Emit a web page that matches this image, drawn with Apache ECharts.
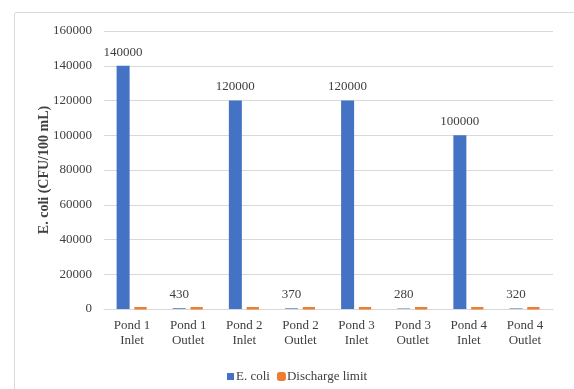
<!DOCTYPE html>
<html>
<head>
<meta charset="utf-8">
<script src="https://cdn.jsdelivr.net/npm/echarts@6/dist/echarts.min.js"></script>
<style>
  html, body { margin: 0; padding: 0; background: #fff; }
  #chart { width: 574px; height: 389px; }
</style>
</head>
<body>
<div id="chart"></div>
<script>
// Sampling points along the pond system
const categories = [
  'Pond 1\nInlet', 'Pond 1\nOutlet',
  'Pond 2\nInlet', 'Pond 2\nOutlet',
  'Pond 3\nInlet', 'Pond 3\nOutlet',
  'Pond 4\nInlet', 'Pond 4\nOutlet'
];
// E. coli counts (CFU/100 mL)
const ecoliValues = [140000, 430, 120000, 370, 120000, 280, 100000, 320];
// Discharge limit (CFU/100 mL)
const dischargeLimit = [1000, 1000, 1000, 1000, 1000, 1000, 1000, 1000];
// Value axis ticks
const yMin = 0, yMax = 160000, yStep = 20000;

const FONT = '"Liberation Serif", "Times New Roman", serif';
const TEXT = '#404040';
const BLUE = '#4472C4';
const ORANGE = '#ED7D31';

const chart = echarts.init(document.getElementById('chart'), null, { renderer: 'canvas' });
chart.setOption({
  backgroundColor: '#ffffff',
  animation: false,
  textStyle: { fontFamily: FONT },
  graphic: [{
    type: 'rect',
    left: 12, top: 10,
    shape: { width: 561, height: 400, r: 2 },
    style: { fill: 'none', stroke: '#d9d9d9', lineWidth: 1 },
    silent: true
  }],
  grid: { left: 104, right: 21, top: 31, bottom: 80, containLabel: false },
  legend: {
    top: 365,
    left: 222,
    icon: 'rect',
    itemWidth: 7,
    itemHeight: 7,
    itemGap: 7,
    textStyle: { fontFamily: FONT, fontSize: 13, color: TEXT, padding: [0, 0, 0, -3] },
    data: [
      { name: 'E. coli', itemStyle: { color: BLUE, borderWidth: 0 } },
      { name: 'Discharge limit', icon: 'roundRect', itemStyle: { color: ORANGE, borderColor: ORANGE, borderWidth: 2 } }
    ]
  },
  xAxis: {
    type: 'category',
    data: categories,
    axisLine: { lineStyle: { color: '#d9d9d9', width: 1 } },
    axisTick: { show: false },
    axisLabel: {
      fontFamily: FONT, fontSize: 13, color: TEXT,
      lineHeight: 15, margin: 9, interval: 0
    }
  },
  yAxis: {
    type: 'value',
    min: yMin, max: yMax, interval: yStep,
    name: 'E. coli (CFU/100 mL)',
    nameLocation: 'middle',
    nameGap: 53,
    nameMoveOverlap: false,
    nameTextStyle: { fontFamily: FONT, fontSize: 14, fontWeight: 'bold', color: TEXT },
    axisLine: { show: false },
    axisTick: { show: false },
    splitLine: { lineStyle: { color: '#d9d9d9', width: 1 } },
    axisLabel: {
      fontFamily: FONT, fontSize: 13, color: TEXT, margin: 12,
      formatter: v => String(v)
    }
  },
  series: [
    {
      name: 'E. coli',
      type: 'bar',
      data: ecoliValues,
      barWidth: 13,
      barGap: '30%',
      itemStyle: { color: BLUE },
      label: {
        show: true, position: 'top', distance: 7,
        fontFamily: FONT, fontSize: 13, color: TEXT
      }
    },
    {
      name: 'Discharge limit',
      type: 'bar',
      data: dischargeLimit,
      barWidth: 14,
      itemStyle: {
        color: ORANGE,
        borderColor: ORANGE,
        borderWidth: 2.5,
        borderRadius: 2
      }
    }
  ]
});
</script>
</body>
</html>
